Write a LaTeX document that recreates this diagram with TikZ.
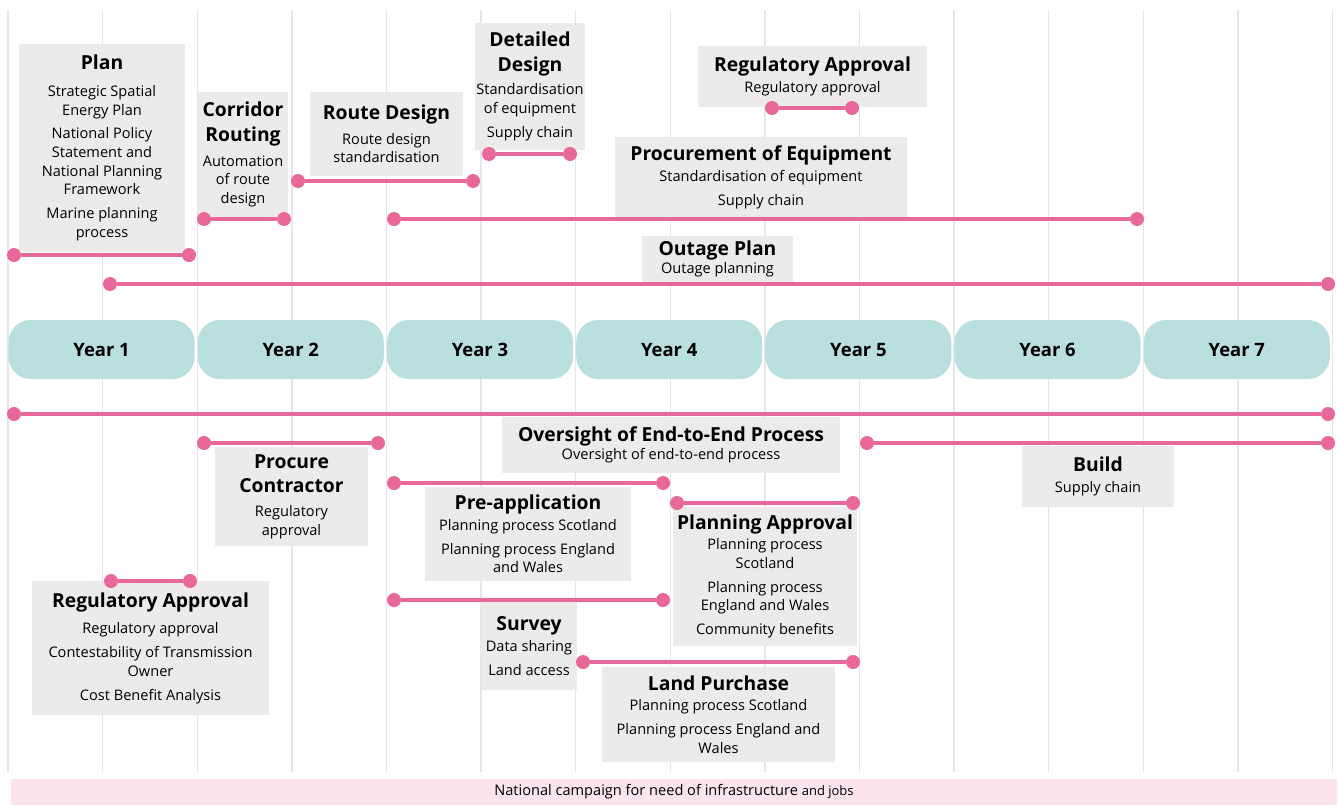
\documentclass[tikz,border=0pt]{standalone}
\usepackage{fontspec}
\setmainfont{Open Sans}
\usepackage{tikz}
\usetikzlibrary{positioning,calc}
\definecolor{barpink}{HTML}{E8689A}
\definecolor{boxgray}{HTML}{EDEBEA}
\definecolor{yearteal}{HTML}{B9DFDF}
\definecolor{gridgray}{HTML}{E6E6E9}
\definecolor{bandpink}{HTML}{FBE4EE}
\newcommand{\bodyfont}{\fontsize{8.3}{10.6}\selectfont}
\newcommand{\boxtitle}[1]{{\fontsize{11}{12}\selectfont\bfseries #1}}
\tikzstyle{box} = [fill=boxgray, inner sep=0pt, align=center, font=\bodyfont]
\tikzstyle{yearpill} = [fill=yearteal, rounded corners=0.44cm, minimum width=3.72cm, minimum height=1.18cm, font=\fontsize{10.5}{12}\selectfont\bfseries]
\tikzstyle{dot} = [circle, fill=barpink, inner sep=0pt, minimum size=0.28cm]
\tikzstyle{bar} = [draw=barpink, line width=1.8pt]
\tikzstyle{gridline} = [draw=gridgray, line width=0.8pt]

\begin{document}
\begin{tikzpicture}[x=0.02cm, y=-0.02cm]
        % frame
        \useasboundingbox[fill=white] (0,0) rectangle (1338,805);
        % half-year grid
        \foreach \k in {0,...,14}
          \draw[gridline] ({8+94.6*\k},10) -- ({8+94.6*\k},772);
        % campaign band
        \node[fill=bandpink, minimum width=26.54cm, minimum height=0.52cm, inner sep=0pt, font=\bodyfont] (campaign) at (674,792)
          {National campaign for need of infrastructure {\fontsize{7.4}{8}\selectfont and jobs}};
        % years
        \foreach \k in {1,...,7}
          \node[yearpill] (year\k) at ({101.6+189.2*(\k-1)},349.5) {Year \k};
        % boxes above the years
        \node[box, minimum width=3.32cm, minimum height=4.16cm] (plan) at (102,148)
          {\boxtitle{Plan}\\[4.5pt] Strategic Spatial\\ Energy Plan\\[3pt] National Policy\\ Statement and\\ National Planning\\ Framework\\[3pt] Marine planning\\ process};
        \node[box, minimum width=1.8cm, minimum height=2.5cm] (corridor) at (243,154.5)
          {\boxtitle{Corridor}\\[3.5pt] \boxtitle{Routing}\\[3.5pt] Automation\\ of route\\ design};
        \node[box, minimum width=3.06cm, minimum height=1.68cm] (route) at (386.5,134)
          {\boxtitle{Route Design}\\[3.5pt] Route design\\ standardisation};
        \node[box, minimum width=2.2cm, minimum height=2.54cm] (detailed) at (530,86.5)
          {\boxtitle{Detailed}\\[3.5pt] \boxtitle{Design}\\[2.5pt] Standardisation\\ of equipment\\[3pt] Supply chain};
        \node[box, minimum width=4.58cm, minimum height=1.22cm] (regtop) at (812.5,76.5)
          {\boxtitle{Regulatory Approval}\\[1pt] Regulatory approval};
        \node[box, minimum width=5.84cm, minimum height=1.6cm] (procure) at (761,177)
          {\boxtitle{Procurement of Equipment}\\[1.5pt] Standardisation of equipment\\[3pt] Supply chain};
        \node[box, minimum width=3.02cm, minimum height=0.92cm] (outage) at (717.5,259)
          {\boxtitle{Outage Plan}\\[0pt] Outage planning};
        % boxes below the years
        \node[box, minimum width=6.76cm, minimum height=1.12cm] (oversight) at (671,445)
          {\boxtitle{Oversight of End-to-End Process}\\[0pt] Oversight of end-to-end process};
        \node[box, minimum width=3.06cm, minimum height=1.98cm] (contractor) at (291.5,496.5)
          {\boxtitle{Procure}\\[3.5pt] \boxtitle{Contractor}\\[3pt] Regulatory\\ approval};
        \node[box, minimum width=3.04cm, minimum height=1.22cm] (build) at (1098,476.5)
          {\boxtitle{Build}\\[1.5pt] Supply chain};
        \node[box, minimum width=4.12cm, minimum height=1.88cm] (preapp) at (528,534)
          {\boxtitle{Pre-application}\\[1pt] Planning process Scotland\\[3pt] Planning process England\\ and Wales};
        \node[box, minimum width=3.68cm, minimum height=2.78cm] (planning) at (765,576.5)
          {\boxtitle{Planning Approval}\\[1pt] Planning process\\ Scotland\\[3pt] Planning process\\ England and Wales\\[3pt] Community benefits};
        \node[box, minimum width=1.92cm, minimum height=1.76cm] (survey) at (529,646)
          {\boxtitle{Survey}\\[1.5pt] Data sharing\\[3pt] Land access};
        \node[box, minimum width=4.66cm, minimum height=1.9cm] (land) at (718.5,714.5)
          {\boxtitle{Land Purchase}\\[1pt] Planning process Scotland\\[3pt] Planning process England and\\ Wales};
        \node[box, minimum width=4.74cm, minimum height=2.68cm] (regbot) at (150.5,648)
          {\boxtitle{Regulatory Approval}\\[4.5pt] Regulatory approval\\[3pt] Contestability of Transmission\\ Owner\\[3pt] Cost Benefit Analysis};
        % timeline bars
        \foreach \nm/\xa/\xb/\yy in {plan/14/189/255, corridor/204/284/219, route/298/473/181,
            detailed/489/570/154, procure/394/1137/219, regtop/772/852/108, outage/110/1328/284,
            oversight/14/1328/414, contractor/204/378/443, build/867/1328/443, preapp/394/663/483,
            planning/677/853/503, survey/394/663/600, land/583/853/662, regbot/111/190/581}
        {
          \node[dot] (\nm s) at (\xa,\yy) {};
          \node[dot] (\nm e) at (\xb,\yy) {};
          \draw[bar] (\nm s) -- (\nm e);
        }
    \end{tikzpicture}
\end{document}
